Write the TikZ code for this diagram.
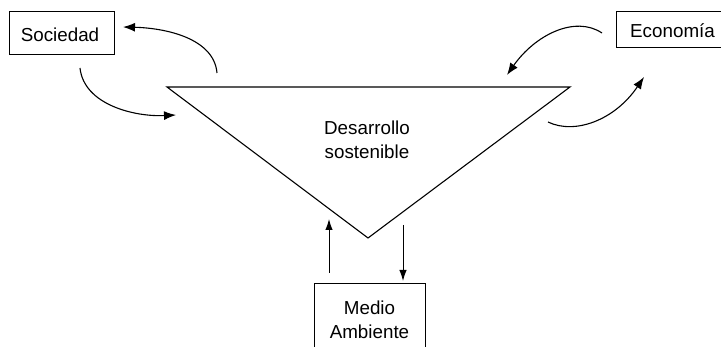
\documentclass[tikz,border=0pt]{standalone}
\usepackage{fontspec}
\setmainfont{Liberation Sans}
\usetikzlibrary{arrows.meta}
\begin{document}
\begin{tikzpicture}[x=1pt,y=-1pt,
  txt/.style={font=\fontsize{18.8}{23.5}\selectfont,align=center,inner sep=0pt},
  boxnode/.style={draw,line width=1pt,inner sep=0pt},
  conn/.style={line width=1.1pt,-{Latex[length=12pt,width=9pt]}},
  thin/.style={line width=1pt,-{Latex[length=11pt,width=7.5pt]}}]
\useasboundingbox (0,0) rectangle (721,347);
% boxes
\node[boxnode,minimum width=105pt,minimum height=43pt] (soc) at (61.5,33.5) {};
\node[txt] (soct) at (60,35) {Sociedad};
\node[boxnode,minimum width=108pt,minimum height=36pt] (eco) at (670,30) {};
\node[txt,anchor=west] (ecot) at (630,31) {Economía};
\node[boxnode,minimum width=111pt,minimum height=80pt] (med) at (369.5,324) {};
\node[txt] (medt) at (369.5,320) {Medio\\Ambiente};
% triangle
\coordinate (tl) at (167,87);
\coordinate (tr) at (570,87);
\coordinate (tb) at (368,238);
\draw[line width=1.1pt,line join=miter] (tl) -- (tr) -- (tb) -- cycle;
\node[txt] (ds) at (367,140) {Desarrollo\\sostenible};
% arrow endpoints
\coordinate (a1s) at (217,73);
\coordinate (a1e) at (123,27);
\coordinate (a2s) at (80,68);
\coordinate (a2e) at (176,115);
\coordinate (a3s) at (602,33);
\coordinate (a3e) at (507,75);
\coordinate (a4s) at (548,122);
\coordinate (a4e) at (644,77);
\coordinate (a5s) at (329,273);
\coordinate (a5e) at (329,219);
\coordinate (a6s) at (403,225);
\coordinate (a6e) at (403,281);
\draw[conn] (a1s) .. controls (214,38) and (165,28) .. (a1e);
\draw[conn] (a2s) .. controls (84,105) and (135,117) .. (a2e);
\draw[conn] (a3s) .. controls (575,15) and (535,35) .. (a3e);
\draw[conn] (a4s) .. controls (575,135) and (615,120) .. (a4e);
\draw[thin] (a5s) -- (a5e);
\draw[thin] (a6s) -- (a6e);
\end{tikzpicture}
\end{document}
